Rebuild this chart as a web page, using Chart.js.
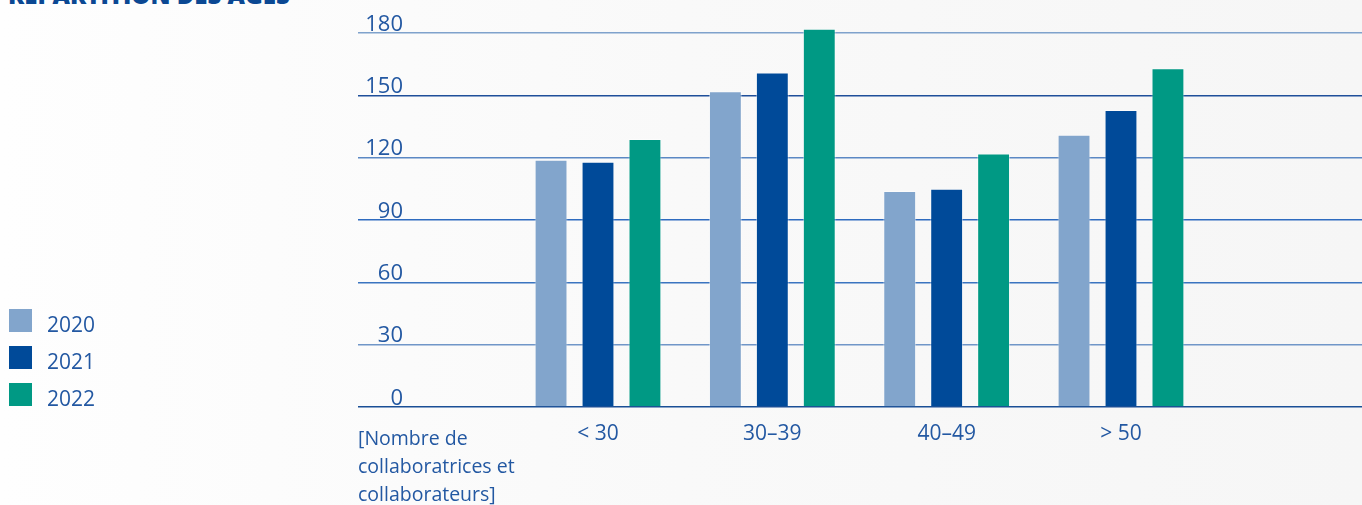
<!DOCTYPE html>
<html><head><meta charset="utf-8">
<script src="https://cdn.jsdelivr.net/npm/chart.js@4.4.1/dist/chart.umd.min.js"></script>
<style>
html,body{margin:0;padding:0;width:1362px;height:505px;overflow:hidden;}
body{background:linear-gradient(to right,#fefefe 0%,#f9f9f9 50%,#f6f6f6 100%);font-family:"Open Sans",sans-serif;position:relative;}
#c{position:absolute;left:0;top:0;}
#title{position:absolute;left:8px;top:-22px;font-weight:800;font-size:24px;color:#0b4893;white-space:nowrap;}
#legend{position:absolute;left:9px;top:309px;}
.li{display:flex;align-items:center;height:23px;margin-bottom:14px;}
.sw{width:23px;height:23px;margin-right:15px;}
.lt{font-size:21px;color:#2358a2;position:relative;top:3px;}
#unit{position:absolute;left:358px;top:424px;font-size:19.5px;line-height:28px;color:#2358a2;}
</style></head>
<body>
<div id="title">RÉPARTITION DES ÂGES</div>
<canvas id="c" width="1362" height="505"></canvas>
<div id="legend"></div>
<div id="unit">[Nombre de<br>collaboratrices et<br>collaborateurs]</div>
<script>
const categories = ['< 30', '30–39', '40–49', '> 50'];
const seriesNames = ['2020', '2021', '2022'];
const values2020 = [119, 152, 104, 131];
const values2021 = [118, 161, 105, 143];
const values2022 = [129, 182, 122, 163];
const yTicks = [0, 30, 60, 90, 120, 150, 180];

const seriesValues = [values2020, values2021, values2022];
const colors = ['#82a5cc', '#004a99', '#009984'];
const gridColors = ['#1a4f96', '#7096c8', '#3a74c0', '#2e6bbf', '#5b88c4', '#1f4f9a', '#7fa2cc'];

const legend = document.getElementById('legend');
seriesNames.forEach((n, k) => {
  const d = document.createElement('div'); d.className = 'li';
  d.innerHTML = '<div class="sw" style="background:' + colors[k] + '"></div><span class="lt">' + n + '</span>';
  legend.appendChild(d);
});

new Chart(document.getElementById('c'), {
  type: 'bar',
  data: {
    datasets: seriesNames.map((n, k) => ({
      label: n,
      data: seriesValues[k].map((v, i) => ({ x: i, y: v })),
      backgroundColor: colors[k],
      borderColor: 'rgba(255,255,255,0.45)',
      borderWidth: 1,
      categoryPercentage: 0.808,
      barPercentage: 0.70,
      clip: false
    }))
  },
  options: {
    responsive: false,
    animation: false,
    layout: { padding: { top: 33, left: 0, right: 0, bottom: 0 } },
    plugins: { legend: { display: false }, tooltip: { enabled: false } },
    scales: {
      x: {
        type: 'linear', min: -1.1071, max: 4.3825, offset: false,
        grid: { display: false }, border: { display: false },
        afterBuildTicks: s => { s.ticks = categories.map((c, i) => ({ value: i })); },
        afterFit: s => { s.height = 98; },
        ticks: {
          autoSkip: false, maxRotation: 0, padding: 6,
          font: { family: 'Open Sans', size: 21 }, color: '#2358a2',
          callback: v => (Number.isInteger(v) && v >= 0 && v < categories.length) ? categories[v] : ''
        }
      },
      y: {
        min: 0, max: 180,
        afterBuildTicks: s => { s.ticks = yTicks.map(v => ({ value: v })); },
        afterFit: s => { s.width = 405; },
        border: { display: false },
        grid: { color: c => gridColors[c.index] || '#2e6bbf', lineWidth: 1.4, drawTicks: true, tickLength: 47 },
        ticks: {
          padding: -45, labelOffset: -8.5, crossAlign: 'near',
          font: { family: 'Open Sans', size: 22 }, color: '#2358a2'
        }
      }
    }
  }
});
</script>
</body></html>
